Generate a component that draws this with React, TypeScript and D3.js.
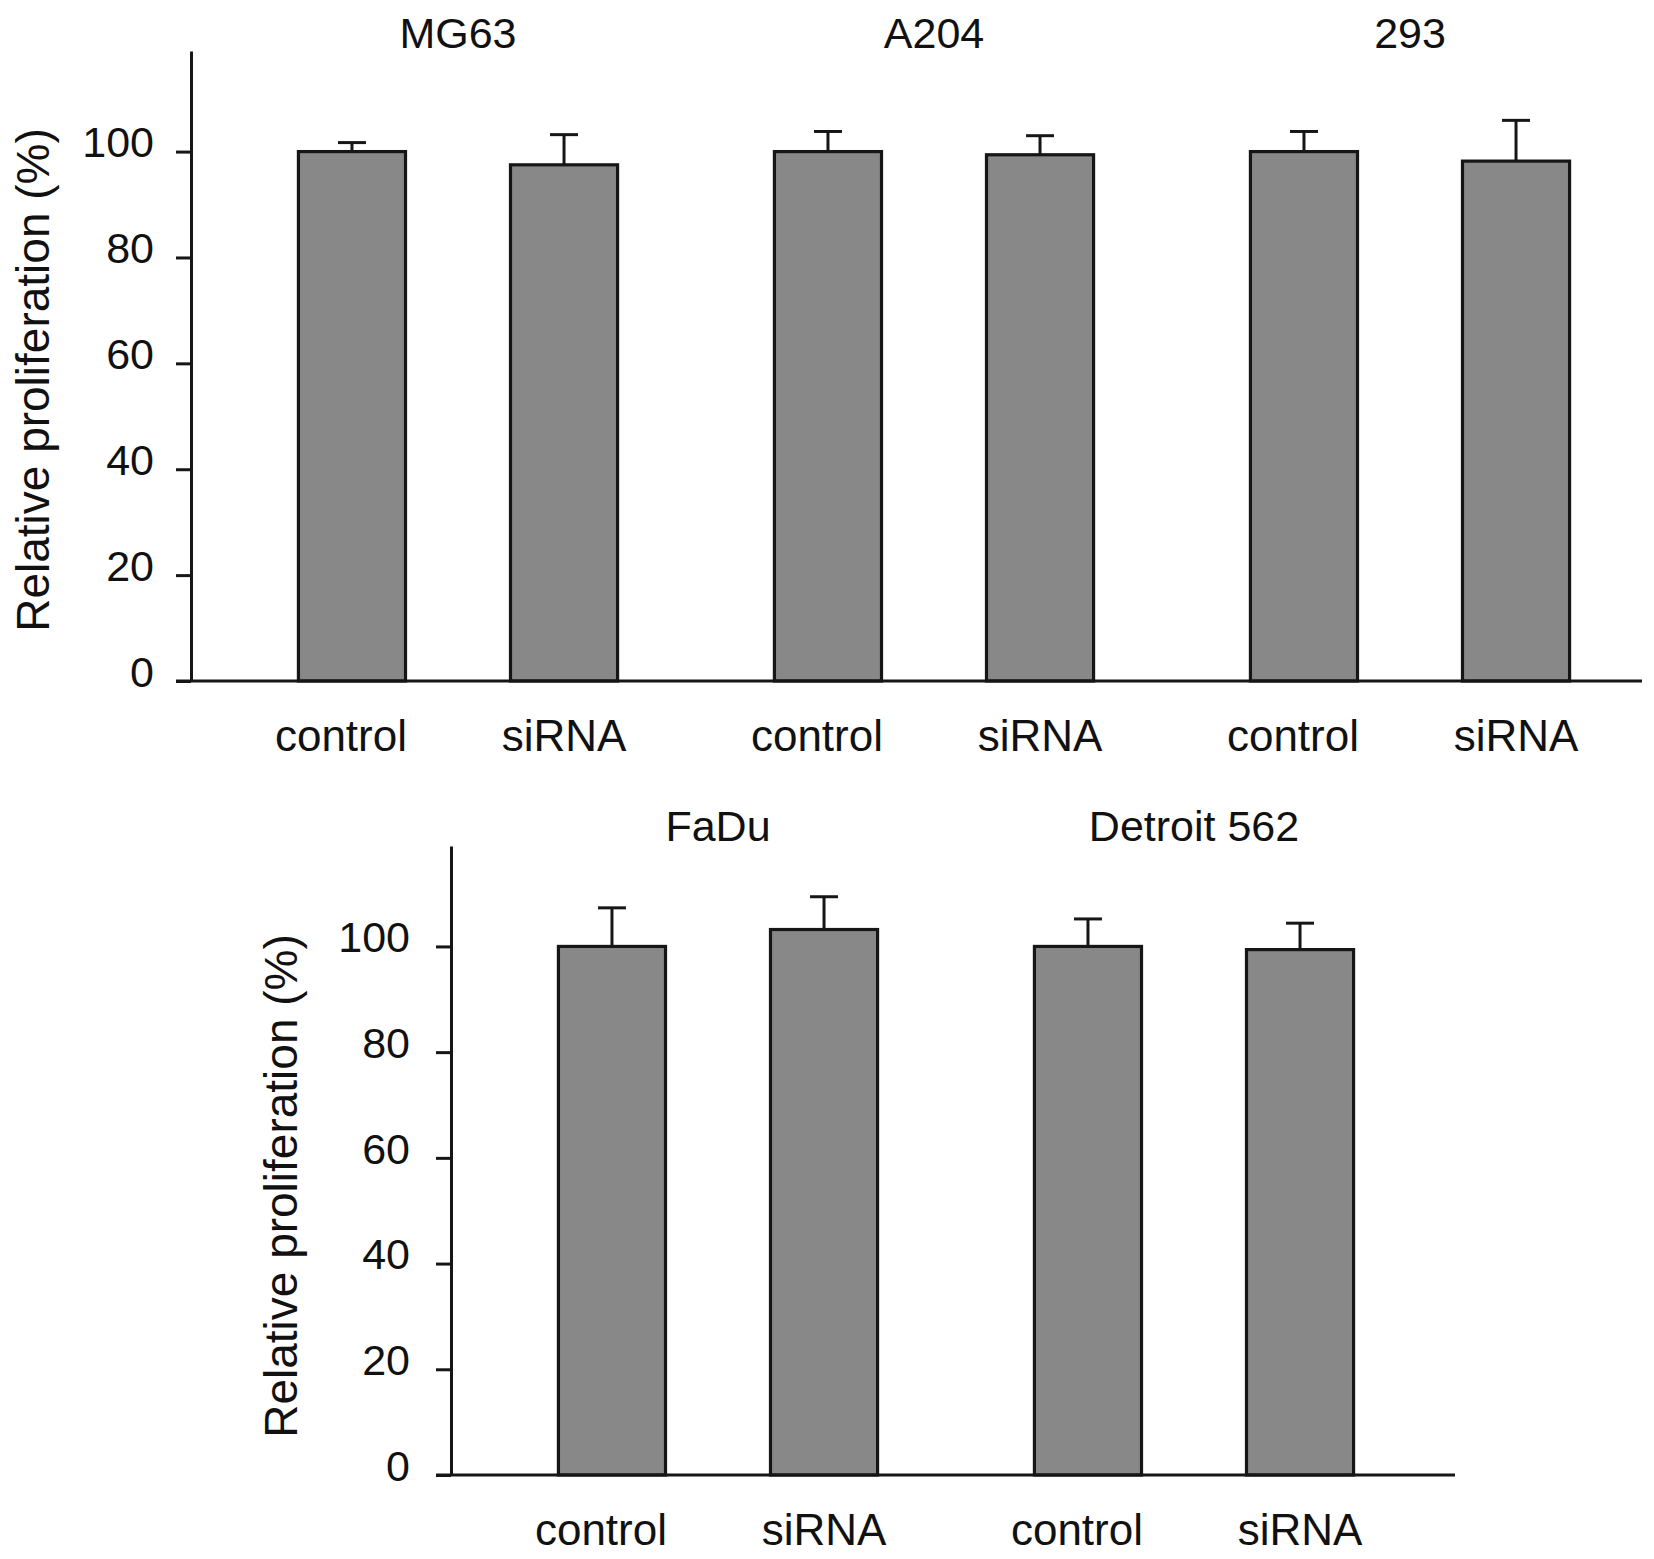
import { useEffect, useRef } from "react";
import * as d3 from "d3";

const width = 1654;
const height = 1559;
const font = "'Liberation Sans', Arial, Helvetica, sans-serif";

const conditions = ["control", "siRNA"];
const yTicks = [0, 20, 40, 60, 80, 100];
const yLabel = "Relative proliferation (%)";

// top row
const topCells = ["MG63", "A204", "293"];
const topControl = [100, 100, 100];
const topSiRNA = [97.5, 99.4, 98.2];
const topControlErr = [1.7, 3.8, 3.8];
const topSiRNAErr = [5.7, 3.6, 7.7];

// bottom row
const bottomCells = ["FaDu", "Detroit 562"];
const bottomControl = [100, 100];
const bottomSiRNA = [103.2, 99.4];
const bottomControlErr = [7.3, 5.2];
const bottomSiRNAErr = [6.2, 5.0];

type Panel = {
  cells: string[];
  control: number[];
  siRNA: number[];
  controlErr: number[];
  siRNAErr: number[];
  axisX: number;
  baseY: number;
  topY: number;
  xEnd: number;
  labelX: number;
  labelY: number;
  titleY: number;
  tickPad: number;
};

const panels: Panel[] = [
  {
    cells: topCells,
    control: topControl,
    siRNA: topSiRNA,
    controlErr: topControlErr,
    siRNAErr: topSiRNAErr,
    axisX: 191,
    baseY: 681,
    topY: 51,
    xEnd: 1642,
    labelX: 49,
    labelY: 380,
    titleY: 48,
    tickPad: 22,
  },
  {
    cells: bottomCells,
    control: bottomControl,
    siRNA: bottomSiRNA,
    controlErr: bottomControlErr,
    siRNAErr: bottomSiRNAErr,
    axisX: 451,
    baseY: 1475,
    topY: 846,
    xEnd: 1455,
    labelX: 297,
    labelY: 1186,
    titleY: 841,
    tickPad: 26,
  },
];

const drawPanel = (svg: d3.Selection<SVGSVGElement, unknown, null, undefined>, p: Panel) => {
  const g = svg.append("g");
  const ink = "#161616";
  const tickLen = 15;

  const y = d3.scaleLinear().domain([0, 119]).range([p.baseY, p.topY]);
  const outer = d3
    .scaleBand<string>()
    .domain(p.cells)
    .range([p.axisX + 29, p.axisX + 29 + 476 * p.cells.length])
    .paddingInner(0.109)
    .paddingOuter(0.0545);
  const inner = d3
    .scaleBand<string>()
    .domain(conditions)
    .range([0, outer.bandwidth()])
    .paddingInner(0.495)
    .paddingOuter(0.2475);

  const rows = p.cells.flatMap((cell, i) => [
    { cell, cond: "control", v: p.control[i], e: p.controlErr[i] },
    { cell, cond: "siRNA", v: p.siRNA[i], e: p.siRNAErr[i] },
  ]);
  const cx = (d: { cell: string; cond: string }) =>
    (outer(d.cell) ?? 0) + (inner(d.cond) ?? 0) + inner.bandwidth() / 2;

  // error bars (upper only)
  g.selectAll(".err")
    .data(rows)
    .join("line")
    .attr("x1", cx)
    .attr("x2", cx)
    .attr("y1", (d) => y(d.v))
    .attr("y2", (d) => y(d.v + d.e))
    .attr("stroke", ink)
    .attr("stroke-width", 3);
  g.selectAll(".cap")
    .data(rows)
    .join("line")
    .attr("x1", (d) => cx(d) - 14)
    .attr("x2", (d) => cx(d) + 14)
    .attr("y1", (d) => y(d.v + d.e))
    .attr("y2", (d) => y(d.v + d.e))
    .attr("stroke", ink)
    .attr("stroke-width", 3);

  // bars
  g.selectAll(".bar")
    .data(rows)
    .join("rect")
    .attr("x", (d) => (outer(d.cell) ?? 0) + (inner(d.cond) ?? 0))
    .attr("y", (d) => y(d.v))
    .attr("width", inner.bandwidth())
    .attr("height", (d) => y(0) - y(d.v))
    .attr("fill", "#888888")
    .attr("stroke", ink)
    .attr("stroke-width", 3.2);

  // y axis
  const yAxis = d3
    .axisLeft(y)
    .tickValues(yTicks)
    .tickSize(tickLen)
    .tickSizeOuter(0)
    .tickPadding(p.tickPad);
  const ga = g.append("g").attr("transform", `translate(${p.axisX},0)`).call(yAxis);
  ga.select(".domain").attr("stroke", ink).attr("stroke-width", 3);
  ga.selectAll(".tick line").attr("stroke", ink).attr("stroke-width", 3);
  ga.selectAll(".tick text")
    .attr("dy", "0.12em")
    .attr("fill", "#111")
    .attr("font-family", font)
    .attr("font-size", 43);

  // x baseline
  g.append("line")
    .attr("x1", p.axisX - tickLen)
    .attr("x2", p.xEnd)
    .attr("y1", y(0))
    .attr("y2", y(0))
    .attr("stroke", ink)
    .attr("stroke-width", 3);

  // category labels
  g.selectAll(".cat")
    .data(rows)
    .join("text")
    .attr("x", (d) => cx(d) + (d.cond === "control" ? -11 : 0))
    .attr("y", p.baseY + 70)
    .attr("text-anchor", "middle")
    .attr("font-family", font)
    .attr("font-size", 44)
    .attr("fill", "#111")
    .text((d) => d.cond);

  // cell line titles
  g.selectAll(".title")
    .data(p.cells)
    .join("text")
    .attr("x", (d) => (outer(d) ?? 0) + outer.bandwidth() / 2)
    .attr("y", p.titleY)
    .attr("text-anchor", "middle")
    .attr("font-family", font)
    .attr("font-size", 43)
    .attr("fill", "#111")
    .text((d) => d);

  // y label
  g.append("text")
    .attr("transform", `translate(${p.labelX},${p.labelY}) rotate(-90)`)
    .attr("text-anchor", "middle")
    .attr("font-family", font)
    .attr("font-size", 46)
    .attr("fill", "#111")
    .text(yLabel);
};

const App = () => {
  const svgRef = useRef<SVGSVGElement>(null);

  useEffect(() => {
    const svg = d3.select(svgRef.current as SVGSVGElement);
    svg.selectAll("*").remove();
    svg.append("rect").attr("width", width).attr("height", height).attr("fill", "#fff");
    panels.forEach((p) => drawPanel(svg, p));
  }, []);

  return (
    <svg
      ref={svgRef}
      width={width}
      height={height}
      viewBox={`0 0 ${width} ${height}`}
      style={{ position: "absolute", left: 0, top: 0, display: "block" }}
    ></svg>
  );
};

export default App;
